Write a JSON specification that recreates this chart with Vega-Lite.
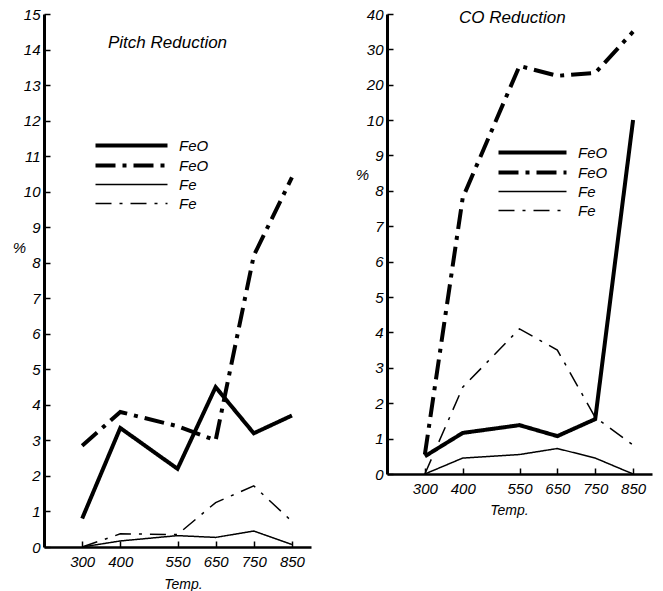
{
  "$schema": "https://vega.github.io/schema/vega-lite/v6.json",
  "background": "white",
  "padding": {"left": 12, "top": 7, "right": 5, "bottom": 0},
  "spacing": 44,
  "resolve": {
    "scale": {"strokeDash": "independent", "strokeWidth": "independent"},
    "legend": {"strokeDash": "independent", "strokeWidth": "independent"}
  },
  "config": {
    "view": {"stroke": null},
    "font": "Liberation Sans",
    "axis": {
      "grid": false,
      "domainColor": "black",
      "domainWidth": 3,
      "tickColor": "black",
      "tickWidth": 1.5,
      "tickSize": -6,
      "labelPadding": 10,
      "labelFont": "Liberation Sans",
      "labelFontStyle": "italic",
      "labelFontSize": 15,
      "labelColor": "black",
      "titleFont": "Liberation Sans",
      "titleFontStyle": "italic",
      "titleFontWeight": "normal",
      "titleFontSize": 14,
      "titleColor": "black"
    },
    "axisX": {"labelPadding": 13},
    "legend": {
      "labelFont": "Liberation Sans",
      "labelFontStyle": "italic",
      "labelFontSize": 15,
      "labelColor": "black"
    },
    "title": {
      "font": "Liberation Sans",
      "fontStyle": "italic",
      "fontWeight": "normal",
      "fontSize": 17,
      "color": "black"
    }
  },
  "datasets": {
    "pitch": [
      {"temp": 300, "pct": 0.8, "series": "FeO solid"},
      {"temp": 400, "pct": 3.35, "series": "FeO solid"},
      {"temp": 550, "pct": 2.2, "series": "FeO solid"},
      {"temp": 650, "pct": 4.5, "series": "FeO solid"},
      {"temp": 750, "pct": 3.2, "series": "FeO solid"},
      {"temp": 850, "pct": 3.7, "series": "FeO solid"},
      {"temp": 300, "pct": 2.85, "series": "FeO dashdot"},
      {"temp": 400, "pct": 3.8, "series": "FeO dashdot"},
      {"temp": 550, "pct": 3.4, "series": "FeO dashdot"},
      {"temp": 650, "pct": 3.0, "series": "FeO dashdot"},
      {"temp": 750, "pct": 8.2, "series": "FeO dashdot"},
      {"temp": 850, "pct": 10.4, "series": "FeO dashdot"},
      {"temp": 300, "pct": 0, "series": "Fe solid"},
      {"temp": 400, "pct": 0.17, "series": "Fe solid"},
      {"temp": 550, "pct": 0.32, "series": "Fe solid"},
      {"temp": 650, "pct": 0.27, "series": "Fe solid"},
      {"temp": 750, "pct": 0.45, "series": "Fe solid"},
      {"temp": 850, "pct": 0.07, "series": "Fe solid"},
      {"temp": 300, "pct": 0, "series": "Fe dashdot"},
      {"temp": 400, "pct": 0.37, "series": "Fe dashdot"},
      {"temp": 550, "pct": 0.35, "series": "Fe dashdot"},
      {"temp": 650, "pct": 1.25, "series": "Fe dashdot"},
      {"temp": 750, "pct": 1.72, "series": "Fe dashdot"},
      {"temp": 850, "pct": 0.72, "series": "Fe dashdot"}
    ],
    "co": [
      {"temp": 300, "pct": 0.5, "series": "FeO solid"},
      {"temp": 400, "pct": 1.16, "series": "FeO solid"},
      {"temp": 550, "pct": 1.38, "series": "FeO solid"},
      {"temp": 650, "pct": 1.07, "series": "FeO solid"},
      {"temp": 750, "pct": 1.55, "series": "FeO solid"},
      {"temp": 850, "pct": 10, "series": "FeO solid"},
      {"temp": 300, "pct": 0.55, "series": "FeO dashdot"},
      {"temp": 400, "pct": 7.8, "series": "FeO dashdot"},
      {"temp": 550, "pct": 25.3, "series": "FeO dashdot"},
      {"temp": 650, "pct": 22.5, "series": "FeO dashdot"},
      {"temp": 750, "pct": 23.3, "series": "FeO dashdot"},
      {"temp": 850, "pct": 35, "series": "FeO dashdot"},
      {"temp": 300, "pct": 0, "series": "Fe solid"},
      {"temp": 400, "pct": 0.45, "series": "Fe solid"},
      {"temp": 550, "pct": 0.55, "series": "Fe solid"},
      {"temp": 650, "pct": 0.72, "series": "Fe solid"},
      {"temp": 750, "pct": 0.45, "series": "Fe solid"},
      {"temp": 850, "pct": 0, "series": "Fe solid"},
      {"temp": 300, "pct": 0, "series": "Fe dashdot"},
      {"temp": 400, "pct": 2.45, "series": "Fe dashdot"},
      {"temp": 550, "pct": 4.1, "series": "Fe dashdot"},
      {"temp": 650, "pct": 3.5, "series": "Fe dashdot"},
      {"temp": 750, "pct": 1.6, "series": "Fe dashdot"},
      {"temp": 850, "pct": 0.82, "series": "Fe dashdot"}
    ]
  },
  "hconcat": [
    {
      "width": 267,
      "height": 533,
      "data": {"name": "pitch"},
      "title": {"text": "Pitch  Reduction", "anchor": "start", "dx": 64, "offset": -45, "frame": "group"},
      "mark": {"type": "line", "color": "black", "strokeCap": "butt", "strokeJoin": "miter"},
      "encoding": {
        "x": {
          "field": "temp", "type": "quantitative",
          "scale": {"domain": [200, 900], "nice": false, "zero": false},
          "axis": {"values": [300, 400, 550, 650, 750, 850], "title": "Temp.", "titleX": 139, "titleY": 37, "titleBaseline": "middle", "domainWidth": 2.5}
        },
        "y": {
          "field": "pct", "type": "quantitative",
          "scale": {"domain": [0, 15], "nice": false},
          "axis": {"values": [0,1,2,3,4,5,6,7,8,9,10,11,12,13,14,15], "title": "%", "titleAngle": 0, "titleX": -25, "titleY": 233, "titleAlign": "center", "titleBaseline": "middle", "titleFontSize": 15}
        },
        "strokeDash": {
          "field": "series", "type": "ordinal",
          "scale": {"type": "ordinal", "domain": ["FeO solid", "FeO dashdot", "Fe solid", "Fe dashdot"], "range": [[1, 0], [20, 7, 4, 7], [1, 0], [16, 8, 3, 8]]},
          "legend": {"title": null, "orient": "none", "legendX": 80, "legendY": 124, "symbolType": "M-36,0H36", "symbolSize": 4, "symbolStrokeColor": "black", "symbolFillColor": "transparent", "labelOffset": 40, "rowPadding": 3, "labelExpr": "split(datum.label, ' ')[0]"}
        },
        "strokeWidth": {
          "field": "series", "type": "ordinal",
          "scale": {"type": "ordinal", "domain": ["FeO solid", "FeO dashdot", "Fe solid", "Fe dashdot"], "range": [4, 4, 1.5, 1.5]},
          "legend": {"title": null, "orient": "none", "legendX": 80, "legendY": 124, "symbolType": "M-36,0H36", "symbolSize": 4, "symbolStrokeColor": "black", "symbolFillColor": "transparent", "labelOffset": 40, "rowPadding": 3, "labelExpr": "split(datum.label, ' ')[0]"}
        }
      }
    },
    {
      "width": 265,
      "height": 460,
      "data": {"name": "co"},
      "title": {"text": "CO  Reduction", "anchor": "start", "dx": 72, "offset": -20, "frame": "group"},
      "mark": {"type": "line", "color": "black", "strokeCap": "butt", "strokeJoin": "miter"},
      "encoding": {
        "x": {
          "field": "temp", "type": "quantitative",
          "scale": {"domain": [200, 900], "nice": false, "zero": false},
          "axis": {"values": [300, 400, 550, 650, 750, 850], "title": "Temp.", "titleX": 122, "titleY": 36, "titleBaseline": "middle", "domainWidth": 2.5}
        },
        "y": {
          "field": "pct", "type": "quantitative",
          "scale": {"type": "linear", "domain": [0, 10, 40], "range": [460, 106, 0], "nice": false},
          "axis": {"values": [0,1,2,3,4,5,6,7,8,9,10,20,30,40], "title": "%", "titleAngle": 0, "titleX": -25, "titleY": 160, "titleAlign": "center", "titleBaseline": "middle", "titleFontSize": 15}
        },
        "strokeDash": {
          "field": "series", "type": "ordinal",
          "scale": {"type": "ordinal", "domain": ["FeO solid", "FeO dashdot", "Fe solid", "Fe dashdot"], "range": [[1, 0], [20, 7, 4, 7], [1, 0], [16, 8, 3, 8]]},
          "legend": {"title": null, "orient": "none", "legendX": 138, "legendY": 131, "symbolType": "M-34,0H34", "symbolSize": 4, "symbolStrokeColor": "black", "symbolFillColor": "transparent", "labelOffset": 38, "rowPadding": 3, "labelExpr": "split(datum.label, ' ')[0]"}
        },
        "strokeWidth": {
          "field": "series", "type": "ordinal",
          "scale": {"type": "ordinal", "domain": ["FeO solid", "FeO dashdot", "Fe solid", "Fe dashdot"], "range": [4, 4, 1.5, 1.5]},
          "legend": {"title": null, "orient": "none", "legendX": 138, "legendY": 131, "symbolType": "M-34,0H34", "symbolSize": 4, "symbolStrokeColor": "black", "symbolFillColor": "transparent", "labelOffset": 38, "rowPadding": 3, "labelExpr": "split(datum.label, ' ')[0]"}
        }
      }
    }
  ]
}
